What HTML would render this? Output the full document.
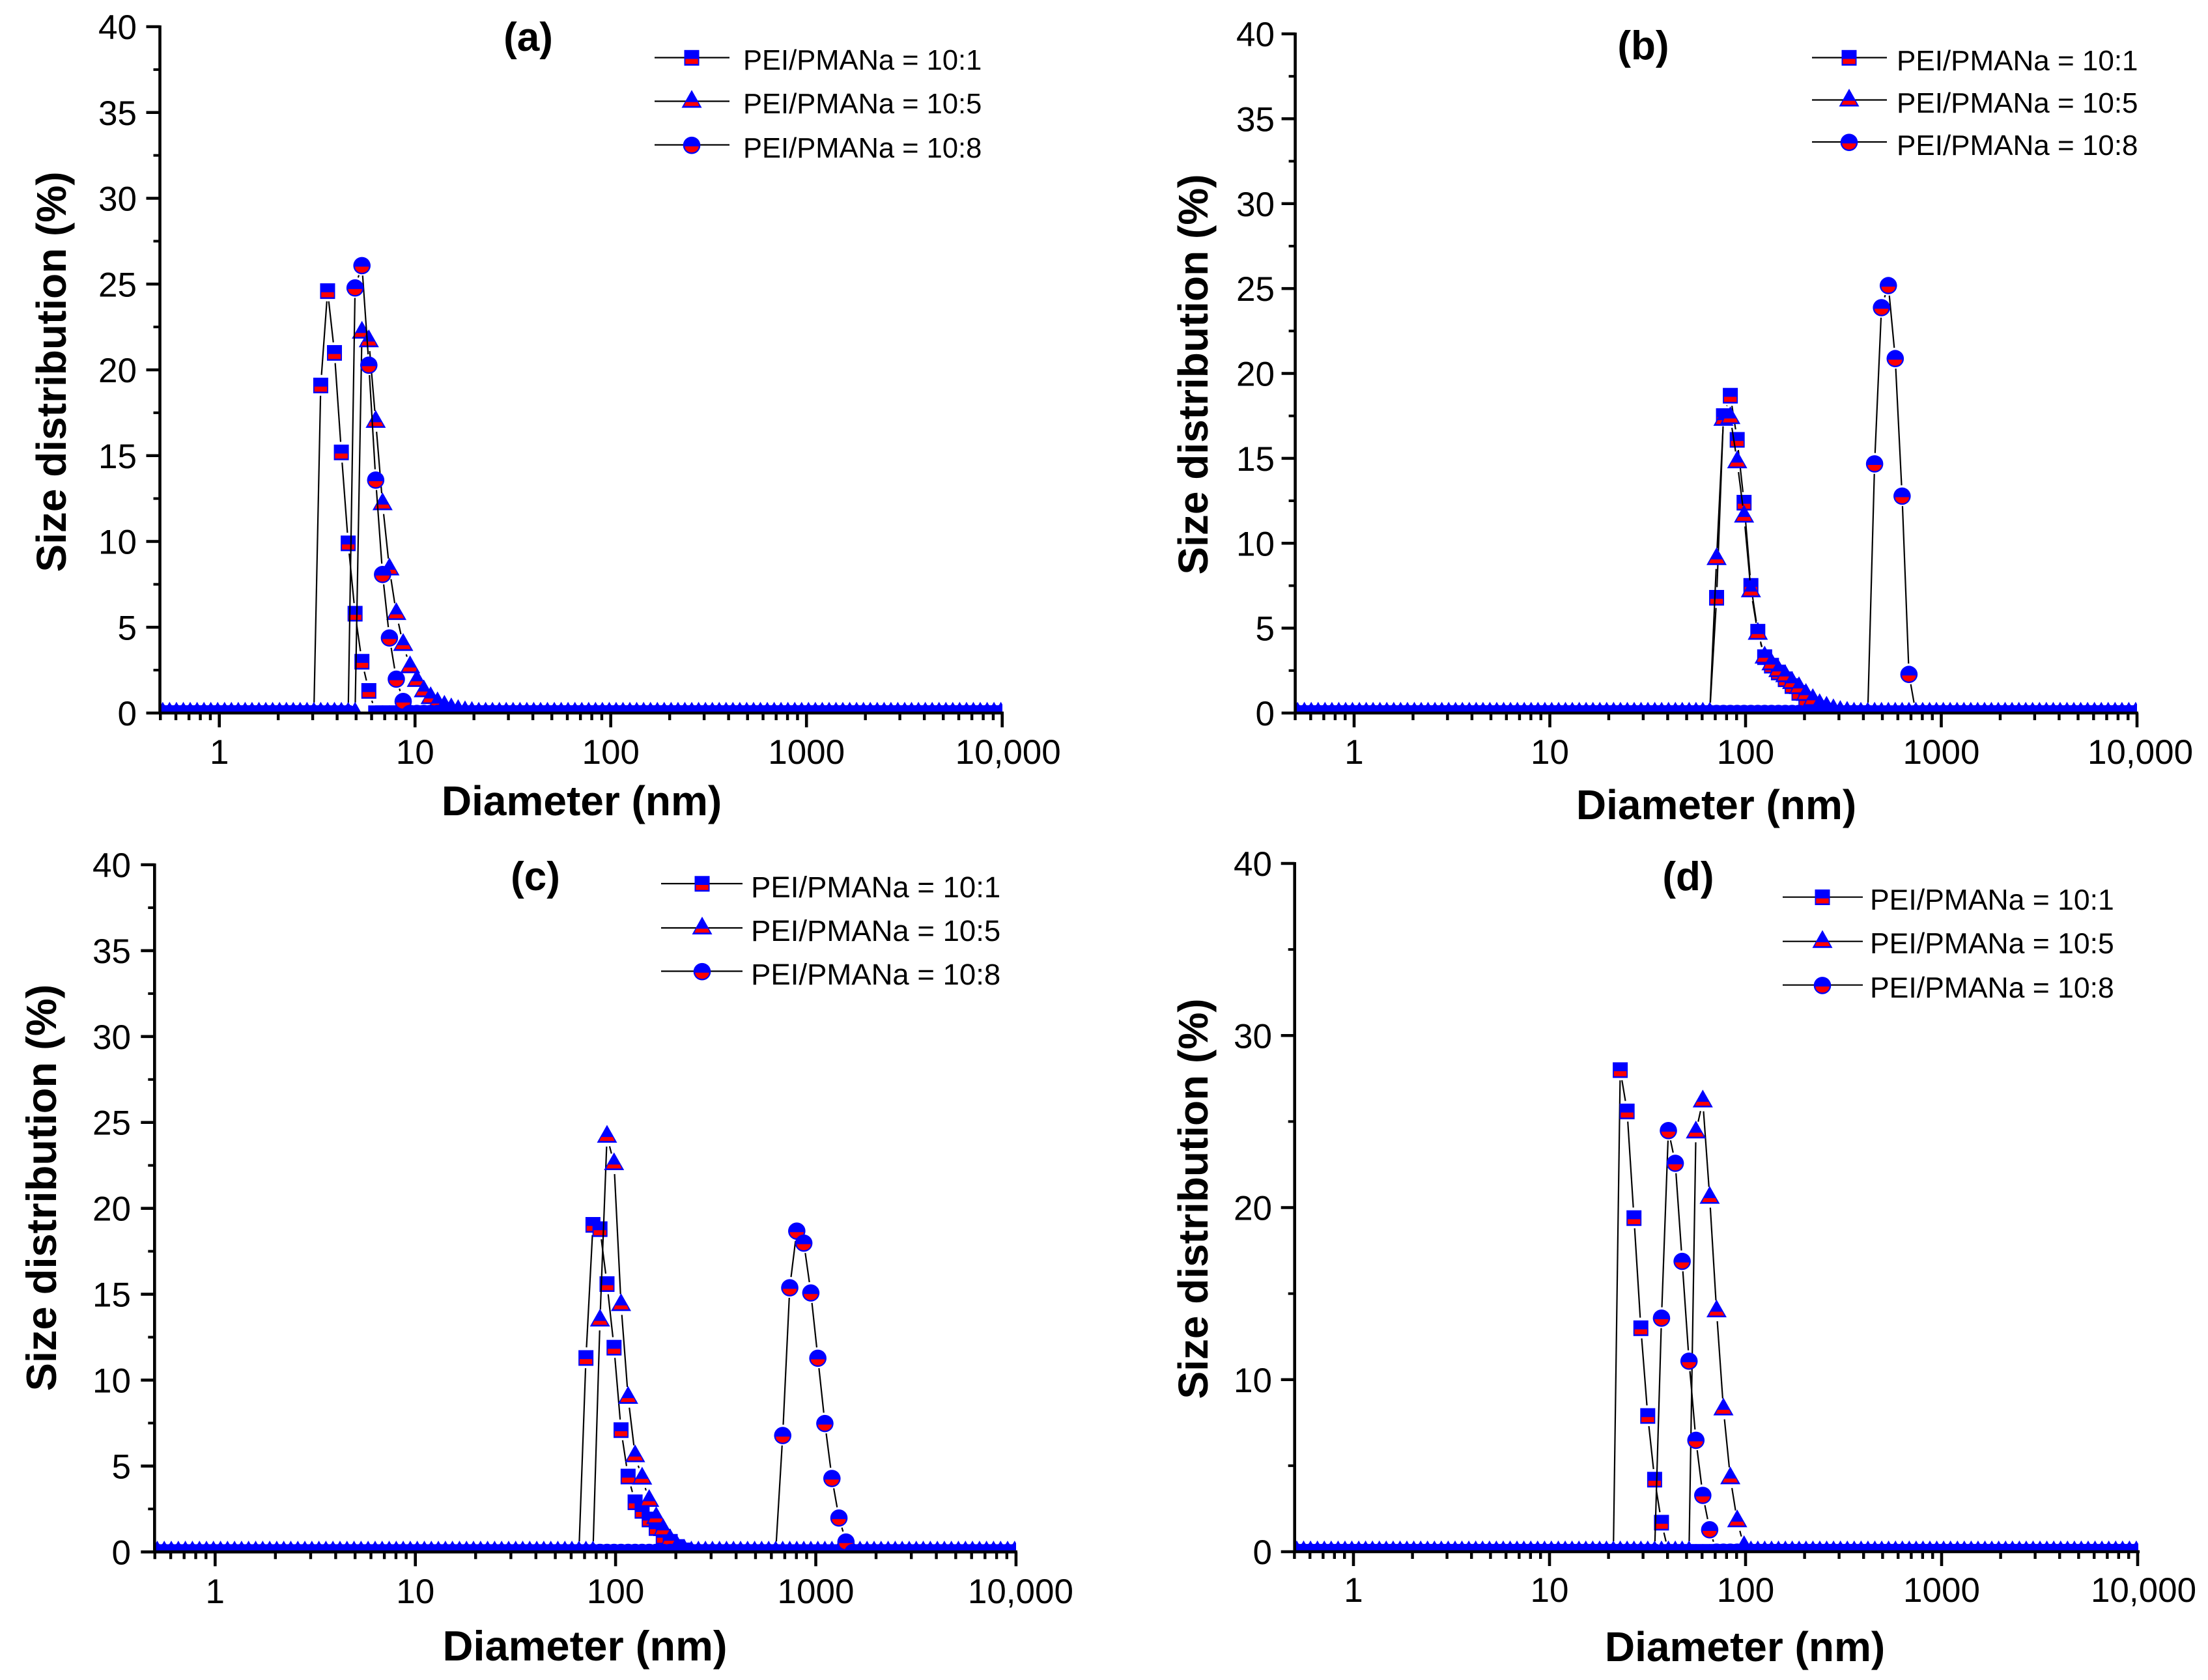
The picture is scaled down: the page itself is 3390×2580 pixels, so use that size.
<!DOCTYPE html>
<html lang="en">
<head>
<meta charset="utf-8">
<title>Size distribution panels</title>
<style>
html,body{margin:0;padding:0;background:#fff;}
svg{display:block;}
text{font-family:"Liberation Sans",Arial,sans-serif;fill:#000;}
.axis-title{font-weight:bold;font-size:64px;}
.panel-tag{font-weight:bold;font-size:62px;}
.tick-label{font-size:53px;}
</style>
</head>
<body>
<svg id="figure" xmlns="http://www.w3.org/2000/svg" width="3390" height="2580" viewBox="0 0 3390 2580">
  <rect width="3390" height="2580" fill="#fff"/>

  <g id="panel-a">
    <text class="panel-tag" x="811" y="78" text-anchor="middle">(a)</text>
    <text class="axis-title" x="893" y="1252" text-anchor="middle">Diameter (nm)</text>
    <text class="axis-title" transform="translate(101,571) rotate(-90)" text-anchor="middle">Size distribution (%)</text>
    <text font-size="43.5" x="1141" y="107">PEI/PMANa = 10:1</text>
    <text font-size="43.5" x="1141" y="174">PEI/PMANa = 10:5</text>
    <text font-size="43.5" x="1141" y="242">PEI/PMANa = 10:8</text>
  </g>

  <g id="panel-b">
    <text class="panel-tag" x="2523" y="91" text-anchor="middle">(b)</text>
    <text class="axis-title" x="2635" y="1258" text-anchor="middle">Diameter (nm)</text>
    <text class="axis-title" transform="translate(1854,575) rotate(-90)" text-anchor="middle">Size distribution (%)</text>
    <text font-size="44" x="2912" y="108">PEI/PMANa = 10:1</text>
    <text font-size="44" x="2912" y="173">PEI/PMANa = 10:5</text>
    <text font-size="44" x="2912" y="238">PEI/PMANa = 10:8</text>
  </g>

  <g id="panel-c">
    <text class="panel-tag" x="822" y="1367" text-anchor="middle">(c)</text>
    <text class="axis-title" style="font-size:65px" x="898" y="2550" text-anchor="middle">Diameter (nm)</text>
    <text class="axis-title" style="font-size:65px" transform="translate(86,1824) rotate(-90)" text-anchor="middle">Size distribution (%)</text>
    <text font-size="45.5" x="1153" y="1378">PEI/PMANa = 10:1</text>
    <text font-size="45.5" x="1153" y="1445">PEI/PMANa = 10:5</text>
    <text font-size="45.5" x="1153" y="1512">PEI/PMANa = 10:8</text>
  </g>

  <g id="panel-d">
    <text class="panel-tag" x="2592" y="1367" text-anchor="middle">(d)</text>
    <text class="axis-title" x="2679" y="2551" text-anchor="middle">Diameter (nm)</text>
    <text class="axis-title" transform="translate(1854,1841) rotate(-90)" text-anchor="middle">Size distribution (%)</text>
    <text font-size="44.5" x="2871" y="1397">PEI/PMANa = 10:1</text>
    <text font-size="44.5" x="2871" y="1464">PEI/PMANa = 10:5</text>
    <text font-size="44.5" x="2871" y="1532">PEI/PMANa = 10:8</text>
  </g>
</svg>

<script>
// Diameter (nm) of each size bin shared by every series
const binDiameters = [
0.514,0.557,0.604,0.655,0.710,0.770,0.835,0.905,0.981,1.064,
1.153,1.250,1.355,1.469,1.594,1.728,1.873,2.031,2.202,2.387,
2.588,2.806,3.042,3.298,3.575,3.876,4.203,4.556,4.940,5.355,
5.808,6.296,6.825,7.400,8.024,8.698,9.432,10.22,11.09,12.02,
13.03,14.13,15.32,16.61,18.01,19.52,21.17,22.95,24.88,26.97,
29.24,31.70,34.37,37.26,40.40,43.80,47.48,51.48,55.81,60.51,
65.61,71.13,77.11,83.60,90.63,98.26,106.5,115.5,125.2,135.7,
147.2,159.6,173.0,187.5,203.4,220.6,239.1,259.3,281.1,304.7,
330.4,358.2,388.3,421.0,456.4,494.9,536.5,581.7,630.6,683.6,
741.3,803.6,871.3,944.6,1024,1110,1204,1305,1415,1534,
1663,1803,1955,2119,2298,2492,2701,2928,3175,3442,
3733,4047,4387,4756,5156,5591,6061,6571,7123,7723,
8375,9079,9843];

// Panel (a) size distribution values (%)
const panelARatio1 = [
0,0,0,0,0,0,0,0,0,0,
0,0,0,0,0,0,0,0,0,0,
0,0,0,19.1,24.6,21.0,15.2,9.9,5.8,3.0,
1.3,0,0,0,0,0,0,0,0,0,
0,0,0,0,0,0,0,0,0,0,
0,0,0,0,0,0,0,0,0,0,
0,0,0,0,0,0,0,0,0,0,
0,0,0,0,0,0,0,0,0,0,
0,0,0,0,0,0,0,0,0,0,
0,0,0,0,0,0,0,0,0,0,
0,0,0,0,0,0,0,0,0,0,
0,0,0,0,0,0,0,0,0,0,
0,0,0];
const panelARatio5 = [
0,0,0,0,0,0,0,0,0,0,
0,0,0,0,0,0,0,0,0,0,
0,0,0,0,0,0,0,0,0,22.2,
21.7,17.0,12.2,8.4,5.8,4.0,2.7,1.9,1.3,0.9,
0.6,0.4,0.25,0.15,0.08,0.04,0,0,0,0,
0,0,0,0,0,0,0,0,0,0,
0,0,0,0,0,0,0,0,0,0,
0,0,0,0,0,0,0,0,0,0,
0,0,0,0,0,0,0,0,0,0,
0,0,0,0,0,0,0,0,0,0,
0,0,0,0,0,0,0,0,0,0,
0,0,0,0,0,0,0,0,0,0,
0,0,0];
const panelARatio8 = [
0,0,0,0,0,0,0,0,0,0,
0,0,0,0,0,0,0,0,0,0,
0,0,0,0,0,0,0,0,24.8,26.1,
20.3,13.6,8.1,4.4,2.0,0.7,0,0,0,0,
0,0,0,0,0,0,0,0,0,0,
0,0,0,0,0,0,0,0,0,0,
0,0,0,0,0,0,0,0,0,0,
0,0,0,0,0,0,0,0,0,0,
0,0,0,0,0,0,0,0,0,0,
0,0,0,0,0,0,0,0,0,0,
0,0,0,0,0,0,0,0,0,0,
0,0,0,0,0,0,0,0,0,0,
0,0,0];

// Panel (b) size distribution values (%)
const panelBRatio1 = [
0,0,0,0,0,0,0,0,0,0,
0,0,0,0,0,0,0,0,0,0,
0,0,0,0,0,0,0,0,0,0,
0,0,0,0,0,0,0,0,0,0,
0,0,0,0,0,0,0,0,0,0,
0,0,0,0,0,0,0,0,0,0,
0,6.8,17.5,18.7,16.1,12.4,7.5,4.8,3.3,2.8,
2.4,2.0,1.6,1.2,0.8,0.5,0.3,0.15,0,0,
0,0,0,0,0,0,0,0,0,0,
0,0,0,0,0,0,0,0,0,0,
0,0,0,0,0,0,0,0,0,0,
0,0,0,0,0,0,0,0,0,0,
0,0,0];
const panelBRatio5 = [
0,0,0,0,0,0,0,0,0,0,
0,0,0,0,0,0,0,0,0,0,
0,0,0,0,0,0,0,0,0,0,
0,0,0,0,0,0,0,0,0,0,
0,0,0,0,0,0,0,0,0,0,
0,0,0,0,0,0,0,0,0,0,
0,9.1,17.3,17.4,14.8,11.6,7.2,4.7,3.3,2.9,
2.5,2.2,1.8,1.5,1.1,0.8,0.5,0.35,0.2,0.1,
0.05,0,0,0,0,0,0,0,0,0,
0,0,0,0,0,0,0,0,0,0,
0,0,0,0,0,0,0,0,0,0,
0,0,0,0,0,0,0,0,0,0,
0,0,0];
const panelBRatio8 = [
0,0,0,0,0,0,0,0,0,0,
0,0,0,0,0,0,0,0,0,0,
0,0,0,0,0,0,0,0,0,0,
0,0,0,0,0,0,0,0,0,0,
0,0,0,0,0,0,0,0,0,0,
0,0,0,0,0,0,0,0,0,0,
0,0,0,0,0,0,0,0,0,0,
0,0,0,0,0,0,0,0,0,0,
0,0,0,0,14.7,23.9,25.2,20.9,12.8,2.3,
0,0,0,0,0,0,0,0,0,0,
0,0,0,0,0,0,0,0,0,0,
0,0,0,0,0,0,0,0,0,0,
0,0,0];

// Panel (c) size distribution values (%)
const panelCRatio1 = [
0,0,0,0,0,0,0,0,0,0,
0,0,0,0,0,0,0,0,0,0,
0,0,0,0,0,0,0,0,0,0,
0,0,0,0,0,0,0,0,0,0,
0,0,0,0,0,0,0,0,0,0,
0,0,0,0,0,0,0,0,0,0,
0,11.3,19.05,18.8,15.6,11.9,7.1,4.4,2.9,2.4,
1.9,1.4,0.9,0.6,0.3,0.1,0,0,0,0,
0,0,0,0,0,0,0,0,0,0,
0,0,0,0,0,0,0,0,0,0,
0,0,0,0,0,0,0,0,0,0,
0,0,0,0,0,0,0,0,0,0,
0,0,0];
const panelCRatio5 = [
0,0,0,0,0,0,0,0,0,0,
0,0,0,0,0,0,0,0,0,0,
0,0,0,0,0,0,0,0,0,0,
0,0,0,0,0,0,0,0,0,0,
0,0,0,0,0,0,0,0,0,0,
0,0,0,0,0,0,0,0,0,0,
0,0,0,13.5,24.2,22.6,14.4,9.0,5.6,4.3,
3.0,2.0,1.3,0.7,0.3,0.1,0,0,0,0,
0,0,0,0,0,0,0,0,0,0,
0,0,0,0,0,0,0,0,0,0,
0,0,0,0,0,0,0,0,0,0,
0,0,0,0,0,0,0,0,0,0,
0,0,0];
const panelCRatio8 = [
0,0,0,0,0,0,0,0,0,0,
0,0,0,0,0,0,0,0,0,0,
0,0,0,0,0,0,0,0,0,0,
0,0,0,0,0,0,0,0,0,0,
0,0,0,0,0,0,0,0,0,0,
0,0,0,0,0,0,0,0,0,0,
0,0,0,0,0,0,0,0,0,0,
0,0,0,0,0,0,0,0,0,0,
0,0,0,0,0,0,0,0,0,6.8,
15.4,18.7,18.0,15.1,11.3,7.5,4.3,2.0,0.6,0,
0,0,0,0,0,0,0,0,0,0,
0,0,0,0,0,0,0,0,0,0,
0,0,0];

// Panel (d) size distribution values (%)
const panelDRatio1 = [
0,0,0,0,0,0,0,0,0,0,
0,0,0,0,0,0,0,0,0,0,
0,0,0,0,0,0,0,0,0,0,
0,0,0,0,0,0,0,0,0,0,
0,0,0,0,0,0,0,28.0,25.6,19.4,
13.0,7.9,4.2,1.7,0,0,0,0,0,0,
0,0,0,0,0,0,0,0,0,0,
0,0,0,0,0,0,0,0,0,0,
0,0,0,0,0,0,0,0,0,0,
0,0,0,0,0,0,0,0,0,0,
0,0,0,0,0,0,0,0,0,0,
0,0,0,0,0,0,0,0,0,0,
0,0,0];
const panelDRatio5 = [
0,0,0,0,0,0,0,0,0,0,
0,0,0,0,0,0,0,0,0,0,
0,0,0,0,0,0,0,0,0,0,
0,0,0,0,0,0,0,0,0,0,
0,0,0,0,0,0,0,0,0,0,
0,0,0,0,0,0,0,0,24.4,26.2,
20.6,14.0,8.3,4.3,1.8,0.3,0,0,0,0,
0,0,0,0,0,0,0,0,0,0,
0,0,0,0,0,0,0,0,0,0,
0,0,0,0,0,0,0,0,0,0,
0,0,0,0,0,0,0,0,0,0,
0,0,0,0,0,0,0,0,0,0,
0,0,0];
const panelDRatio8 = [
0,0,0,0,0,0,0,0,0,0,
0,0,0,0,0,0,0,0,0,0,
0,0,0,0,0,0,0,0,0,0,
0,0,0,0,0,0,0,0,0,0,
0,0,0,0,0,0,0,0,0,0,
0,0,0,13.6,24.5,22.6,16.9,11.1,6.5,3.3,
1.3,0,0,0,0,0,0,0,0,0,
0,0,0,0,0,0,0,0,0,0,
0,0,0,0,0,0,0,0,0,0,
0,0,0,0,0,0,0,0,0,0,
0,0,0,0,0,0,0,0,0,0,
0,0,0,0,0,0,0,0,0,0,
0,0,0];

// Tick values and printed labels
const xMajorTicks = [1,10,100,1000,10000];
const xMajorLabels = ['1','10','100','1000','10,000'];
const xMinorTicks = [0.5,0.6,0.7,0.8,0.9,2,3,4,5,6,7,8,9,20,30,40,50,60,70,80,90,200,300,400,500,600,700,800,900,2000,3000,4000,5000,6000,7000,8000,9000];
const yMajorFine = [0,5,10,15,20,25,30,35,40];
const yLabelsFine = ['0','5','10','15','20','25','30','35','40'];
const yMinorFine = [2.5,7.5,12.5,17.5,22.5,27.5,32.5,37.5];
const yMajorCoarse = [0,10,20,30,40];
const yLabelsCoarse = ['0','10','20','30','40'];
const yMinorCoarse = [5,15,25,35];

const seriesShapes = ['square','triangle','circle'];
const seriesKeys = ['10-1','10-5','10-8'];

// Page layout of each panel (frame geometry only)
const panelLayouts = [
  {id:'a',left:245.5,right:1539,yTop:41,y0:1095,x1:336.7,decade:300.5,labelRight:210,xLabelBase:1173,lastLabelNudge:9,
   legend:{x1:1005,x2:1120,xm:1062,ys:[88.5,155.5,222.5]},
   major:yMajorFine,labels:yLabelsFine,minor:yMinorFine,series:[panelARatio1,panelARatio5,panelARatio8]},
  {id:'b',left:1988.6,right:3281,yTop:52,y0:1095,x1:2079,decade:300.5,labelRight:1957,xLabelBase:1173,lastLabelNudge:5,
   legend:{x1:2782,x2:2897,xm:2839,ys:[88.5,153.5,218]},
   major:yMajorFine,labels:yLabelsFine,minor:yMinorFine,series:[panelBRatio1,panelBRatio5,panelBRatio8]},
  {id:'c',left:237.3,right:1560,yTop:1328,y0:2383.3,x1:330.3,decade:307.4,labelRight:201,xLabelBase:2462,lastLabelNudge:7,
   legend:{x1:1015,x2:1140,xm:1078,ys:[1357,1425,1491.5]},
   major:yMajorFine,labels:yLabelsFine,minor:yMinorFine,series:[panelCRatio1,panelCRatio5,panelCRatio8]},
  {id:'d',left:1987.7,right:3283,yTop:1326,y0:2383,x1:2078,decade:301,labelRight:1953,xLabelBase:2460,lastLabelNudge:9,
   legend:{x1:2737,x2:2860,xm:2798,ys:[1377.7,1445.7,1512.7]},
   major:yMajorCoarse,labels:yLabelsCoarse,minor:yMinorCoarse,series:[panelDRatio1,panelDRatio5,panelDRatio8]}
];

const SVG_NS = 'http://www.w3.org/2000/svg';
const LINE_GAP = 16;

function xScale(p, d){ return p.x1 + p.decade * Math.log10(d); }
function yScale(p, v){ return p.y0 - v * (p.y0 - p.yTop) / 40; }

function makeEl(tag, parent, attrs){
  const el = document.createElementNS(SVG_NS, tag);
  for (const k in attrs) el.setAttribute(k, attrs[k]);
  parent.appendChild(el);
  return el;
}

function fillMarker(g, shape){
  if (shape === 'square'){
    makeEl('rect', g, {x:-11.5,y:-11.7,width:23,height:24,fill:'#0000ff'});
    makeEl('rect', g, {x:-9.7,y:2,width:19.4,height:7.7,fill:'#ff0000'});
  } else if (shape === 'triangle'){
    makeEl('polygon', g, {points:'0,-17.3 15.5,10 -15.5,10',fill:'#0000ff'});
    makeEl('polygon', g, {points:'-9,1.3 9,1.3 11.7,7.3 -11.7,7.3',fill:'#ff0000'});
  } else {
    makeEl('ellipse', g, {cx:0,cy:0.7,rx:13.3,ry:13.3,fill:'#0000ff'});
    makeEl('path', g, {d:'M-10.7,2.3 A10.7,9.3 0 0 0 10.7,2.3 Z',fill:'#ff0000'});
  }
}

function drawPanel(p){
  const root = document.getElementById('panel-' + p.id);

  const defs = makeEl('defs', root, {});
  const clip = makeEl('clipPath', defs, {id:'plot-clip-' + p.id});
  makeEl('rect', clip, {x:p.left, y:p.yTop - 40, width:p.right - p.left, height:p.y0 - p.yTop + 40});

  const plot = makeEl('g', root, {'clip-path':'url(#plot-clip-' + p.id + ')'});
  
  

  p.series.forEach(function(values, s){
    const group = makeEl('g', plot, {});
    
    

    for (let i = 0; i < values.length - 1; i++){
      const x0 = xScale(p, binDiameters[i]), y0 = yScale(p, values[i]);
      const x1 = xScale(p, binDiameters[i + 1]), y1 = yScale(p, values[i + 1]);
      const len = Math.hypot(x1 - x0, y1 - y0);
      if (len <= LINE_GAP * 2) continue;
      const ux = (x1 - x0) / len, uy = (y1 - y0) / len;
      const seg = makeEl('line', group, {x1:x0 + ux * LINE_GAP, y1:y0 + uy * LINE_GAP, x2:x1 - ux * LINE_GAP, y2:y1 - uy * LINE_GAP, stroke:'#000', 'stroke-width':2.2});
      
      
    }
    values.forEach(function(v, i){
      const mark = makeEl('g', group, {transform:'translate(' + xScale(p, binDiameters[i]).toFixed(2) + ',' + yScale(p, v).toFixed(2) + ')'});
      
      
      fillMarker(mark, seriesShapes[s]);
    });
  });

  const axes = makeEl('g', root, {stroke:'#000'});
  
  

  const yAxis = makeEl('line', axes, {x1:p.left, x2:p.left, y1:p.yTop - 2, y2:p.y0 + 2, 'stroke-width':4.6});
  
  
  const xAxis = makeEl('line', axes, {x1:p.left, x2:p.right + 2, y1:p.y0, y2:p.y0, 'stroke-width':4.6});
  
  

  p.major.forEach(function(v, i){
    const y = yScale(p, v);
    const tick = makeEl('line', axes, {x1:p.left - 21, x2:p.left, y1:y, y2:y, 'stroke-width':4.6});
    
    
    const label = makeEl('text', root, {x:p.labelRight, y:y + 19, 'text-anchor':'end', 'class':'tick-label'});
    
    
    label.textContent = p.labels[i];
  });
  p.minor.forEach(function(v){
    const y = yScale(p, v);
    const tick = makeEl('line', axes, {x1:p.left - 10, x2:p.left, y1:y, y2:y, 'stroke-width':4});
    
    
  });
  xMajorTicks.forEach(function(d, i){
    const x = xScale(p, d);
    const tick = makeEl('line', axes, {x1:x, x2:x, y1:p.y0, y2:p.y0 + 22, 'stroke-width':4.6});
    
    
    const nudge = (i === xMajorTicks.length - 1) ? p.lastLabelNudge : 0;
    const label = makeEl('text', root, {x:x + nudge, y:p.xLabelBase, 'text-anchor':'middle', 'class':'tick-label'});
    
    
    label.textContent = xMajorLabels[i];
  });
  xMinorTicks.forEach(function(d){
    const x = xScale(p, d);
    const tick = makeEl('line', axes, {x1:x, x2:x, y1:p.y0, y2:p.y0 + 11, 'stroke-width':4.4});
    
    
  });

  p.legend.ys.forEach(function(y, s){
    const entry = makeEl('g', root, {});
    
    
    const sample = makeEl('line', entry, {x1:p.legend.x1, x2:p.legend.x2, y1:y, y2:y, stroke:'#000', 'stroke-width':2.2});
    
    
    const glyph = makeEl('g', entry, {transform:'translate(' + p.legend.xm + ',' + y + ')'});
    
    
    fillMarker(glyph, seriesShapes[s]);
  });
}

panelLayouts.forEach(drawPanel);
</script>
</body>
</html>
